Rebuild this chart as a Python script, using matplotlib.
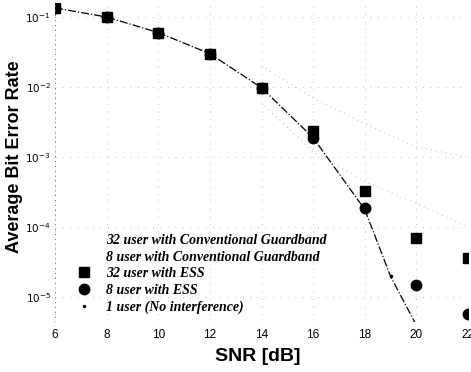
import matplotlib
matplotlib.use('Agg')
import matplotlib.pyplot as plt
from matplotlib.lines import Line2D

# data
snr = [6, 8, 10, 12, 14, 16, 18, 20, 22]
ber_32_ess = [0.135, 0.1, 0.06, 0.03, 0.0098, 0.0024, 3.3e-4, 7.0e-5, 3.7e-5]
ber_8_ess = [0.135, 0.1, 0.06, 0.03, 0.0098, 0.0019, 1.9e-4, 1.5e-5, 5.8e-6]
snr_single = [6, 8, 10, 12, 14, 16, 18, 19, 20]
ber_single = [0.135, 0.1, 0.06, 0.03, 0.0098, 0.0019, 1.8e-4, 2.0e-5, 4.0e-6]
snr_conv = [14, 16, 18, 20, 22]
ber_32_conv = [0.02, 0.007, 0.003, 0.0014, 0.001]
ber_8_conv = [0.006, 0.0012, 4.5e-4, 2.2e-4, 1.0e-4]

labels = ['32 user with Conventional Guardband',
          '8 user with Conventional Guardband',
          '32 user with ESS',
          '8 user with ESS',
          '1 user (No interference)']
xticks = [6, 8, 10, 12, 14, 16, 18, 20, 22]
yticks = [1e-5, 1e-4, 1e-3, 1e-2, 1e-1]

fig = plt.figure(figsize=(4.71, 3.72), dpi=100)
ax = fig.add_axes([55 / 471, 50 / 372, 413 / 471, 319 / 372])

# faint conventional guardband curves (nearly lost in the scan)
ax.plot(snr_conv, ber_32_conv, linestyle=(0, (1, 5)), color='0.6', lw=0.6)
ax.plot(snr_conv, ber_8_conv, linestyle=(0, (1, 5)), color='0.6', lw=0.6)

# single user reference curve
ax.plot(snr_single, ber_single, linestyle='-.', color='k', lw=0.9)
ax.plot(snr_single, ber_single, linestyle='none', marker='.', color='k', markersize=3)

ax.plot(snr, ber_32_ess, linestyle='none', marker='s', color='k', markersize=6.5)
ax.plot(snr, ber_8_ess, linestyle='none', marker='o', color='k', markersize=7.5)

ax.set_yscale('log')
ax.set_xlim(6, 22)
ax.set_ylim(10 ** -5.35, 10 ** -0.8)
ax.set_xticks(xticks)
ax.set_yticks(yticks)
ax.set_yticklabels([r'$10^{-5}$', r'$10^{-4}$', r'$10^{-3}$', r'$10^{-2}$', r'$10^{-1}$'])
ax.minorticks_off()
ax.tick_params(axis='x', length=0, labelsize=8.5, pad=5)
ax.tick_params(axis='y', length=0, labelsize=7.5, pad=3)
for lab in ax.get_xticklabels() + ax.get_yticklabels():
    lab.set_family('Liberation Sans')

for s in ax.spines.values():
    s.set_visible(False)
ax.grid(True, which='major', linestyle=(0, (1, 8)), color='0.65', lw=0.6)
ax.axvline(6, linestyle=(0, (1, 4)), color='0.4', lw=0.7)
ax.axvline(22, linestyle=(0, (1, 4)), color='0.4', lw=0.7)

ax.set_xlabel('SNR [dB]', fontsize=14, fontweight='bold', family='Liberation Sans')
ax.xaxis.set_label_coords(0.49, -0.082)
ax.set_ylabel('Average Bit Error Rate', fontsize=13, fontweight='bold', family='Liberation Sans')
ax.yaxis.set_label_coords(-0.078, 0.517)

handles = [Line2D([], [], linestyle='none', color='w'),
           Line2D([], [], linestyle='none', color='w'),
           Line2D([], [], linestyle='none', marker='s', color='k', markersize=6.5),
           Line2D([], [], linestyle='none', marker='o', color='k', markersize=7.5),
           Line2D([], [], linestyle='none', marker='.', color='k', markersize=3)]
ax.legend(handles, labels, loc='lower left', bbox_to_anchor=(0.03, 0.0), frameon=False,
          prop={'family': 'Liberation Serif', 'style': 'italic', 'weight': 'bold', 'size': 10},
          handlelength=1.2, handletextpad=1.0, labelspacing=0.25, borderaxespad=0.2)

fig.savefig('out.png', dpi=100)
